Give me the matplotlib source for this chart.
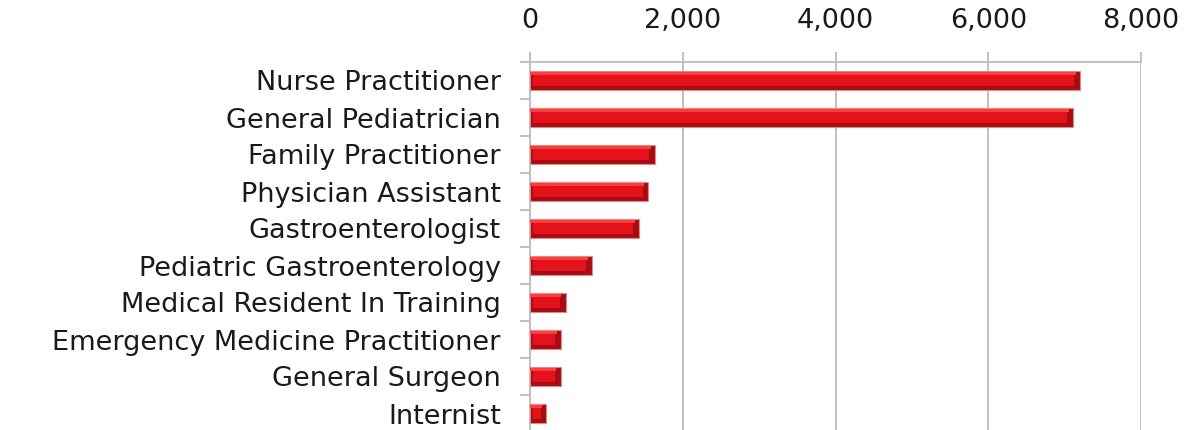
import matplotlib
matplotlib.use('Agg')
import matplotlib.pyplot as plt
import numpy as np

# provider types, top to bottom
categories = ['Nurse Practitioner', 'General Pediatrician', 'Family Practitioner',
              'Physician Assistant', 'Gastroenterologist', 'Pediatric Gastroenterology',
              'Medical Resident In Training', 'Emergency Medicine Practitioner',
              'General Surgeon', 'Internist']
counts = [7200, 7110, 1640, 1550, 1425, 815, 465, 405, 400, 215]
xticks = [0, 2000, 4000, 6000, 8000]
xticklabels = ['0', '2,000', '4,000', '6,000', '8,000']

plt.rcParams['font.family'] = ['DejaVu Sans']
fig = plt.figure(figsize=(11.88, 4.30), dpi=100)
ax = fig.add_axes([530 / 1188, -2 / 430, 611 / 1188, 370 / 430])

y = np.arange(len(categories))
vals = np.array(counts, dtype=float)
h = 0.52
bh = 0.09   # bevel thickness (y units)
bx = 55     # bevel width (x units)

# dark base = bottom bevel + end caps
ax.barh(y, vals, height=h, color='#a80c12', edgecolor='#d98c8e', linewidth=0.8, zorder=3)
# light top bevel
ax.barh(y - h / 2 + bh / 2 + 0.02, vals - bx, left=0, height=bh, color='#ff3d3d', linewidth=0, zorder=4)
# main face
ax.barh(y - 0.01, np.maximum(vals - 2 * bx, 0), left=bx * 0.6, height=h - 2 * bh - 0.04,
        color='#e3121b', linewidth=0, zorder=5)

ax.set_xlim(0, 8000)
ax.set_ylim(len(categories) - 0.5, -0.5)
ax.xaxis.tick_top()
ax.set_xticks(xticks)
ax.set_xticklabels(xticklabels)
ax.set_yticks(np.arange(len(categories) + 1) - 0.5, minor=False)
ax.set_yticklabels([])
ax.set_yticks(y, minor=True)
ax.set_yticklabels(categories, minor=True)

ax.tick_params(axis='x', length=7.2, width=1.4, color='#c0c0c0', pad=13, labelsize=19.5,
               labelcolor='#1a1a1a')
ax.tick_params(axis='y', which='major', length=7.2, width=1.4, color='#c0c0c0')
ax.tick_params(axis='y', which='minor', length=0, pad=21, labelsize=19.5, labelcolor='#1a1a1a')

ax.grid(axis='x', color='#c0c0c0', linewidth=1.4, zorder=0)
ax.set_axisbelow(True)
for s in ['right', 'bottom']:
    ax.spines[s].set_visible(False)
for s in ['top', 'left']:
    ax.spines[s].set_color('#c0c0c0')
    ax.spines[s].set_linewidth(1.4)

fig.savefig('out.png', dpi=100)
